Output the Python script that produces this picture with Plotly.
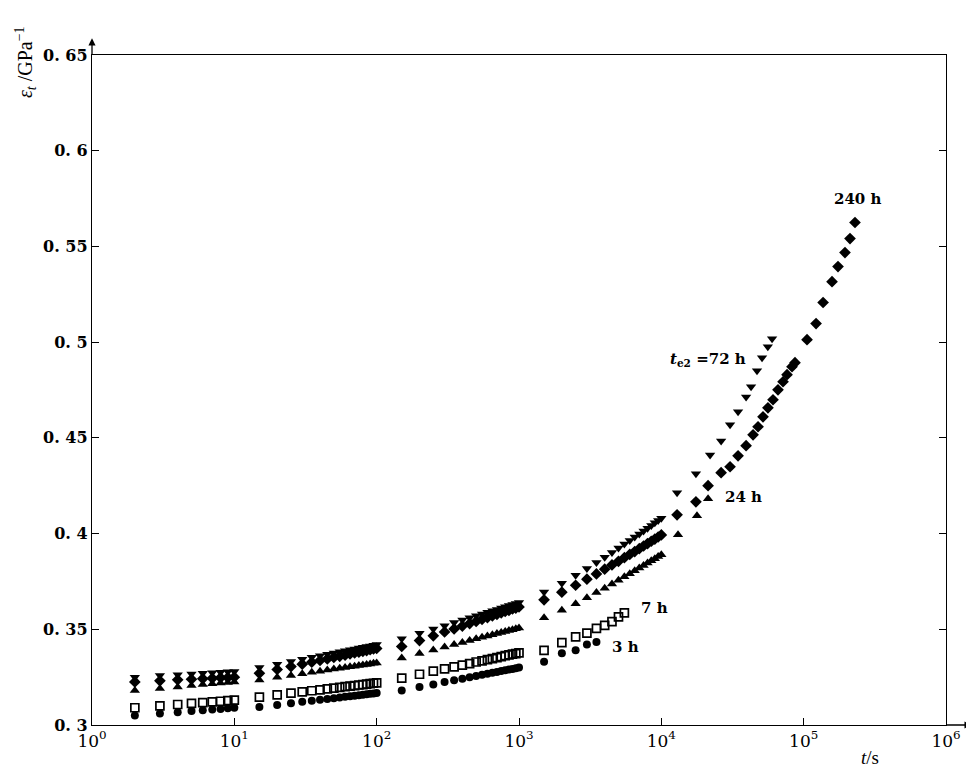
import math
import plotly.graph_objects as go

# ---------------- data ----------------
T1 = [2, 3, 4, 5, 6, 7, 8, 9, 10]
T2 = [15, 20, 25, 30, 35, 40, 45, 50, 55, 60, 65, 70, 75, 80, 85, 90, 95, 100]
T3 = [150, 200, 250, 300, 350, 400, 450, 500, 550, 600, 650, 700, 750, 800, 850, 900, 950, 1000]
T4 = [1500, 2000, 2500, 3000, 3500, 4000, 4500, 5000, 5500, 6000, 6500, 7000, 7500, 8000, 8500, 9000, 9500, 10000]

# t_e2 = 72 h  (filled triangle down)
y72_1 = [0.3250, 0.3258, 0.3263, 0.3267, 0.3270, 0.3273, 0.3276, 0.3278, 0.3280]
y72_2 = [0.3300, 0.3318, 0.3332, 0.3344, 0.3354, 0.3362, 0.3369, 0.3376, 0.3382, 0.3388, 0.3393, 0.3397, 0.3402, 0.3406, 0.3410, 0.3413, 0.3417, 0.3420]
y72_3 = [0.3450, 0.3479, 0.3501, 0.3519, 0.3535, 0.3548, 0.3560, 0.3571, 0.3580, 0.3589, 0.3597, 0.3604, 0.3611, 0.3618, 0.3624, 0.3629, 0.3635, 0.3640]
y72_4 = [0.3695, 0.3741, 0.3782, 0.3817, 0.3849, 0.3876, 0.3901, 0.3924, 0.3945, 0.3964, 0.3982, 0.3998, 0.4014, 0.4028, 0.4042, 0.4056, 0.4068, 0.4080]
t72_5 = [12900, 17500, 22000, 26300, 30400, 34600, 39400, 42700, 47000, 51000, 56000, 60000]
y72_5 = [0.4213, 0.4312, 0.4411, 0.4484, 0.4568, 0.4636, 0.4714, 0.4767, 0.4850, 0.4918, 0.4976, 0.5018]

# 240 h  (filled diamond)
y240_1 = [0.3225, 0.3231, 0.3236, 0.3239, 0.3242, 0.3244, 0.3247, 0.3248, 0.3250]
y240_2 = [0.3270, 0.3290, 0.3305, 0.3318, 0.3328, 0.3337, 0.3345, 0.3353, 0.3359, 0.3365, 0.3371, 0.3376, 0.3380, 0.3385, 0.3389, 0.3393, 0.3397, 0.3400]
y240_3 = [0.3410, 0.3441, 0.3466, 0.3486, 0.3502, 0.3517, 0.3530, 0.3541, 0.3552, 0.3561, 0.3570, 0.3578, 0.3586, 0.3593, 0.3599, 0.3606, 0.3611, 0.3617]
y240_4 = [0.3654, 0.3694, 0.3730, 0.3762, 0.3789, 0.3814, 0.3836, 0.3855, 0.3874, 0.3891, 0.3906, 0.3921, 0.3935, 0.3948, 0.3960, 0.3971, 0.3982, 0.3993]
t240_5 = [12900, 17500, 21300, 26300, 30400, 34600, 39400, 44100, 47800, 51800, 56100, 60900, 66000, 71600, 76400, 82800, 86900,
          105600, 122200, 136900, 158200, 174300, 195100, 211600, 229400]
y240_5 = [0.4098, 0.4166, 0.4250, 0.4318, 0.4349, 0.4406, 0.4459, 0.4516, 0.4558, 0.4610, 0.4657, 0.4699, 0.4751, 0.4793, 0.4830, 0.4872, 0.4893,
          0.5013, 0.5097, 0.5207, 0.5316, 0.5395, 0.5468, 0.5541, 0.5625]

# 24 h  (filled triangle up)
y24_1 = [0.3180, 0.3191, 0.3199, 0.3206, 0.3211, 0.3215, 0.3219, 0.3222, 0.3225]
y24_2 = [0.3235, 0.3249, 0.3259, 0.3268, 0.3275, 0.3281, 0.3287, 0.3292, 0.3296, 0.3300, 0.3304, 0.3307, 0.3311, 0.3314, 0.3316, 0.3319, 0.3322, 0.3324]
y24_3 = [0.3350, 0.3374, 0.3392, 0.3407, 0.3420, 0.3431, 0.3441, 0.3450, 0.3458, 0.3465, 0.3471, 0.3478, 0.3483, 0.3489, 0.3494, 0.3498, 0.3503, 0.3507]
y24_4 = [0.3560, 0.3599, 0.3634, 0.3665, 0.3692, 0.3715, 0.3737, 0.3756, 0.3774, 0.3790, 0.3806, 0.3820, 0.3833, 0.3846, 0.3858, 0.3869, 0.3880, 0.3890]
t24_5 = [13100, 17800, 21300]
y24_5 = [0.3994, 0.4093, 0.4182]

# 7 h  (open square)
y7_1 = [0.3090, 0.3100, 0.3107, 0.3113, 0.3117, 0.3121, 0.3124, 0.3127, 0.3130]
y7_2 = [0.3146, 0.3157, 0.3166, 0.3173, 0.3179, 0.3184, 0.3189, 0.3193, 0.3197, 0.3200, 0.3203, 0.3206, 0.3209, 0.3211, 0.3214, 0.3216, 0.3218, 0.3220]
y7_3 = [0.3245, 0.3265, 0.3281, 0.3293, 0.3304, 0.3313, 0.3321, 0.3329, 0.3335, 0.3342, 0.3347, 0.3352, 0.3357, 0.3362, 0.3366, 0.3370, 0.3373, 0.3377]
t7_4 = [1500, 2000, 2500, 3000, 3500, 4000, 4500, 5000, 5500]
y7_4 = [0.3390, 0.3430, 0.3460, 0.3480, 0.3505, 0.3520, 0.3540, 0.3565, 0.3586]

# 3 h  (filled circle)
y3_1 = [0.3050, 0.3060, 0.3067, 0.3073, 0.3077, 0.3081, 0.3084, 0.3087, 0.3090]
y3_2 = [0.3094, 0.3105, 0.3114, 0.3121, 0.3127, 0.3132, 0.3136, 0.3140, 0.3144, 0.3147, 0.3150, 0.3153, 0.3156, 0.3158, 0.3161, 0.3163, 0.3165, 0.3167]
y3_3 = [0.3180, 0.3198, 0.3212, 0.3224, 0.3234, 0.3242, 0.3250, 0.3256, 0.3262, 0.3268, 0.3273, 0.3277, 0.3282, 0.3286, 0.3290, 0.3293, 0.3297, 0.3300]
t3_4 = [1500, 2000, 2500, 3000, 3500]
y3_4 = [0.3330, 0.3375, 0.3390, 0.3420, 0.3434]

x_tick_vals = [1, 10, 100, 1000, 10000, 100000, 1000000]
x_tick_text = ["10<sup>0</sup>", "10<sup>1</sup>", "10<sup>2</sup>", "10<sup>3</sup>",
               "10<sup>4</sup>", "10<sup>5</sup>", "10<sup>6</sup>"]
y_tick_vals = [0.3, 0.35, 0.4, 0.45, 0.5, 0.55, 0.6, 0.65]
y_tick_text = ["0. 3", "0. 35", "0. 4", "0. 45", "0. 5", "0. 55", "0. 6", "0. 65"]

labels = [
    ("240 h", 240000, 0.5746),
    ("<i>t</i><sub>e2</sub> =72 h", 21300, 0.4910),
    ("24 h", 37500, 0.4192),
    ("7 h", 9000, 0.3612),
    ("3 h", 5600, 0.3408),
]

SERIF = "DejaVu Serif"

# ---------------- figure ----------------
fig = go.Figure()

series = [
    (T1 + T2 + T3 + T4 + t240_5, y240_1 + y240_2 + y240_3 + y240_4 + y240_5,
     dict(symbol="diamond", size=9, color="black")),
    (T1 + T2 + T3 + T4 + t24_5, y24_1 + y24_2 + y24_3 + y24_4 + y24_5,
     dict(symbol="triangle-up", size=9, color="black")),
    (T1 + T2 + T3 + T4 + t72_5, y72_1 + y72_2 + y72_3 + y72_4 + y72_5,
     dict(symbol="triangle-down", size=9, color="black")),
    (T1 + T2 + T3 + t7_4, y7_1 + y7_2 + y7_3 + y7_4,
     dict(symbol="square-open", size=8, color="black", line=dict(width=1.7, color="black"))),
    (T1 + T2 + T3 + t3_4, y3_1 + y3_2 + y3_3 + y3_4,
     dict(symbol="circle", size=8, color="black")),
]
for xs, ys, mk in series:
    fig.add_trace(go.Scatter(x=xs, y=ys, mode="markers", marker=mk, showlegend=False,
                             hoverinfo="x+y"))

annots = []
for txt, tx, ty in labels:
    annots.append(dict(text=txt, x=math.log10(tx), y=ty, xref="x", yref="y", showarrow=False,
                       font=dict(family=SERIF, size=15, color="black", weight="bold")))

# axis titles
annots.append(dict(text="<i>ε</i><sub><i>t</i></sub> /GPa<sup>−1</sup>", xref="paper", yref="paper",
                   x=-0.078, y=0.99, textangle=-90, showarrow=False, xanchor="center", yanchor="middle",
                   font=dict(family="Liberation Serif", size=20, color="black")))
annots.append(dict(text="<i>t</i>/s", xref="paper", yref="paper", x=0.911, y=-0.048,
                   showarrow=False, xanchor="center", yanchor="middle",
                   font=dict(family="Liberation Serif", size=19, color="black")))
# axis arrows
annots.append(dict(text="", xref="paper", yref="paper", x=0, y=1.025, ax=0, ay=18,
                   showarrow=True, arrowhead=2, arrowsize=1.1, arrowwidth=1.3, arrowcolor="black"))
annots.append(dict(text="", xref="paper", yref="paper", x=1.030, y=0, ax=-27, ay=0,
                   showarrow=True, arrowhead=2, arrowsize=1.1, arrowwidth=1.3, arrowcolor="black"))

# page body has an 8px margin: plot area 854x670 placed at page (92,55)
fig.update_layout(
    width=966, height=764,
    margin=dict(l=84, r=28, t=47, b=47),
    paper_bgcolor="white", plot_bgcolor="white",
    annotations=annots,
    showlegend=False,
)
fig.update_xaxes(type="log", range=[0, 6], tickvals=x_tick_vals, ticktext=x_tick_text,
                 ticks="inside", ticklen=7, tickwidth=1.2, tickcolor="black",
                 showline=True, linecolor="black", linewidth=1.3, mirror=True,
                 showgrid=False, zeroline=False,
                 tickfont=dict(family=SERIF, size=17, color="black"))
fig.update_yaxes(range=[0.3, 0.65], tickvals=y_tick_vals, ticktext=y_tick_text,
                 ticks="inside", ticklen=7, tickwidth=1.2, tickcolor="black",
                 showline=True, linecolor="black", linewidth=1.3, mirror="ticks",
                 showgrid=False, zeroline=False,
                 tickfont=dict(family=SERIF, size=16, color="black", weight="bold"))

fig.write_html("out.html")
